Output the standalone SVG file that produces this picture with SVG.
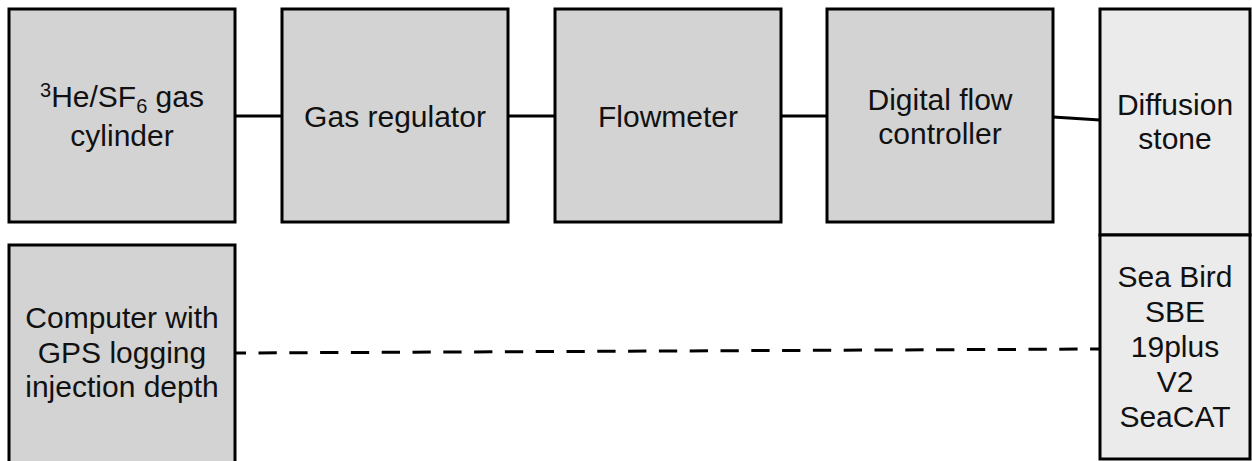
<svg xmlns="http://www.w3.org/2000/svg" width="1252" height="461" viewBox="0 0 1252 461">
<style>
.box{fill:#d3d3d3;stroke:#000;stroke-width:3}
.lbox{fill:#ebebeb;stroke:#000;stroke-width:3}
.t{font-family:"Liberation Sans",Arial,sans-serif;font-size:30px;fill:#111;text-anchor:middle}
.c{stroke:#000;stroke-width:3;fill:none}
</style>
<rect width="1252" height="461" fill="#fff"/>
<g id="connectors">
<line class="c" x1="235" y1="116" x2="282" y2="116"/>
<line class="c" x1="508" y1="116" x2="555" y2="116"/>
<line class="c" x1="781" y1="116" x2="827" y2="116"/>
<line class="c" x1="1053" y1="117" x2="1100" y2="120"/>
<line class="c" x1="235" y1="353" x2="1100" y2="349" stroke-dasharray="18.3 12.5" stroke-dashoffset="7.3"/>
</g>
<g id="cylinder">
<rect class="box" x="9" y="9" width="226" height="213"/>
<text class="t" x="122" y="107"><tspan font-size="20" dy="-10">3</tspan><tspan dy="10">He/SF</tspan><tspan font-size="20" dy="6">6</tspan><tspan dy="-6"> gas</tspan></text>
<text class="t" x="122" y="146">cylinder</text>
</g>
<g id="regulator">
<rect class="box" x="282" y="9" width="226" height="213"/>
<text class="t" x="395" y="127">Gas regulator</text>
</g>
<g id="flowmeter">
<rect class="box" x="555" y="9" width="226" height="213"/>
<text class="t" x="668" y="127">Flowmeter</text>
</g>
<g id="controller">
<rect class="box" x="827" y="9" width="226" height="213"/>
<text class="t" x="940" y="110">Digital flow</text>
<text class="t" x="940" y="144">controller</text>
</g>
<g id="diffusion">
<rect class="lbox" x="1100" y="9" width="150" height="226"/>
<text class="t" x="1175" y="115">Diffusion</text>
<text class="t" x="1175" y="149">stone</text>
</g>
<g id="seabird">
<rect class="lbox" x="1100" y="235" width="150" height="224"/>
<text class="t" x="1175" y="287">Sea Bird</text>
<text class="t" x="1175" y="322">SBE</text>
<text class="t" x="1175" y="357">19plus</text>
<text class="t" x="1175" y="392">V2</text>
<text class="t" x="1175" y="427">SeaCAT</text>
</g>
<g id="computer">
<rect class="box" x="9" y="245" width="226" height="222"/>
<text class="t" x="122" y="328">Computer with</text>
<text class="t" x="122" y="363">GPS logging</text>
<text class="t" x="122" y="397">injection depth</text>
</g>
</svg>
